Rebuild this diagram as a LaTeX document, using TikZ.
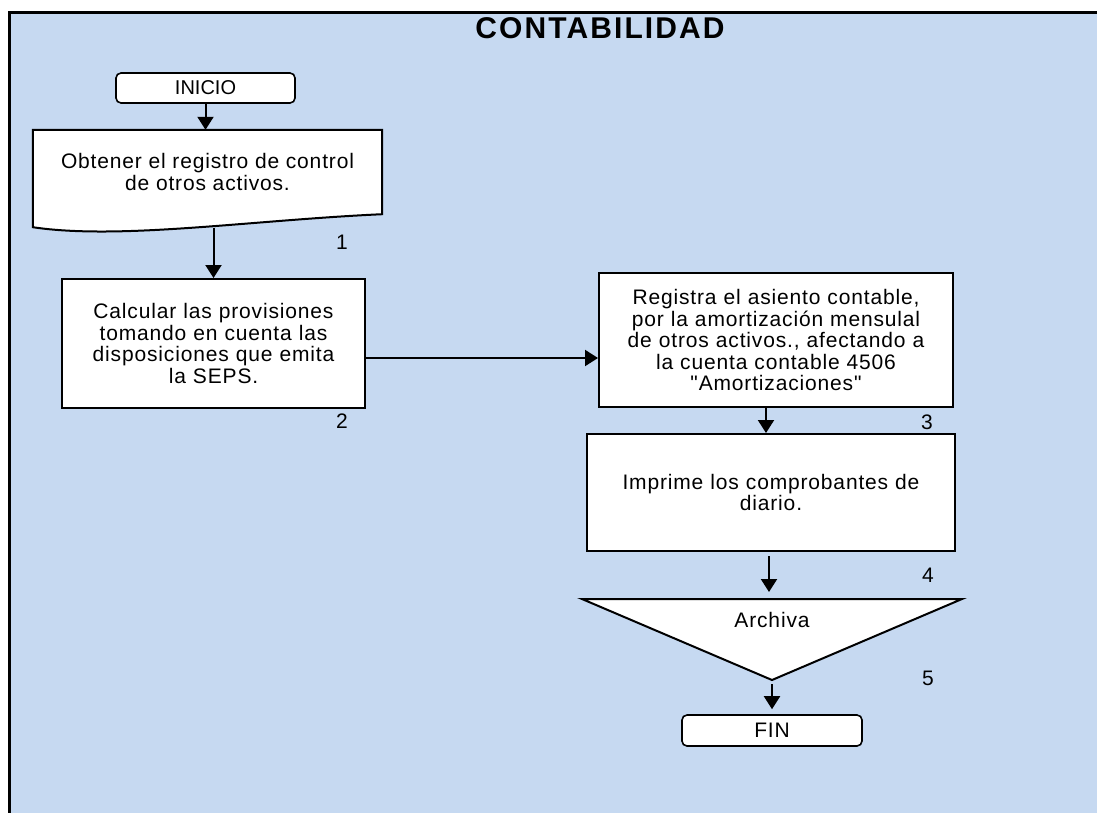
\documentclass[tikz,border=0pt]{standalone}
\usepackage{fontspec}
\setmainfont{Liberation Sans}
\newfontfamily\flowfont[LetterSpace=4]{Liberation Sans}
\newfontfamily\headfont[LetterSpace=7]{Liberation Sans}
\usetikzlibrary{arrows.meta, positioning}
\definecolor{mPanel}{HTML}{C6D9F1}

\begin{document}
\begin{tikzpicture}[x=1pt, y=-1pt,
      txt/.style={font=\flowfont\fontsize{21}{21.5}\selectfont, align=center, inner sep=0pt},
      box/.style={txt, draw, fill=white, line width=2pt},
      term/.style={txt, draw, fill=white, rounded corners=5pt, line width=1.6pt},
      edge/.style={draw, line width=2pt, line join=miter},
      arr/.style={-{Triangle[length=13pt, width=16pt]}, line width=2pt}]
    \useasboundingbox (0,0) rectangle (1097,812);
    \fill[mPanel] (9.5,12) rectangle (1110,830);
    \draw[line width=3pt] (9.5,830) -- (9.5,12) -- (1110,12);
    \node[font=\headfont\bfseries\fontsize{30}{32}\selectfont] (title) at (600,28) {CONTABILIDAD};
    % start
    \node[term, font=\fontsize{20}{21}\selectfont, minimum width=179pt, minimum height=30pt] (inicio) at (205.5,88) {INICIO};
    % document shape
    \node[minimum width=349pt, minimum height=84pt, inner sep=0pt] (doc) at (207.5,172) {};
    \draw[edge, fill=white] (doc.north west) -- (doc.north east) -- (doc.south east)
      .. controls +(-132,6) and +(87,13) .. ([yshift=-13pt]doc.south west) -- cycle;
    \node[txt] (doctxt) at (doc) {Obtener el registro de control\\de otros activos.};
    \node[box, text width=303pt, minimum height=129pt] (calc) at (213.5,343.5)
      {Calcular las provisiones\\tomando en cuenta las\\disposiciones que emita\\la SEPS.};
    \node[box, text width=354pt, minimum height=134pt] (reg) at (776,340)
      {Registra el asiento contable,\\por la amortización mensulal\\de otros activos., afectando a\\la cuenta contable 4506\\"Amortizaciones"};
    \node[box, text width=368pt, minimum height=117pt] (impr) at (771,492.5)
      {Imprime los comprobantes de\\diario.};
    % archive triangle
    \coordinate (archtop) at (772,599);
    \coordinate (apex) at (772,680);
    \draw[edge, fill=white] (582,599) -- (962,599) -- (apex) -- cycle;
    \node[txt] (arch) at (772,620) {Archiva};
    \node[term, minimum width=180pt, minimum height=31pt] (fin) at (772,730.5) {FIN};
    % step numbers
    \node[txt] (n1) at (342,242) {1};
    \node[txt] (n2) at (342,421) {2};
    \node[txt] (n3) at (927,422) {3};
    \node[txt] (n4) at (928,575) {4};
    \node[txt] (n5) at (928,678) {5};
    % connectors
    \coordinate (docb) at (213.5,228);
    \coordinate (c3) at ([xshift=-10pt]reg.south);
    \coordinate (c4) at (769,592);
    \draw[arr] (inicio.south) -- (inicio.south |- doc.north);
    \draw[arr] (docb) -- (calc.north);
    \draw[arr] ([yshift=-14.5pt]calc.east) -- ([yshift=-18pt]reg.west);
    \draw[arr] (c3) -- (c3 |- impr.north);
    \draw[arr, shorten <=4pt] (impr.south -| c4) -- (c4);
    \draw[arr, shorten <=4pt, shorten >=5pt] (apex) -- (apex |- fin.north);
  \end{tikzpicture}
\end{document}
